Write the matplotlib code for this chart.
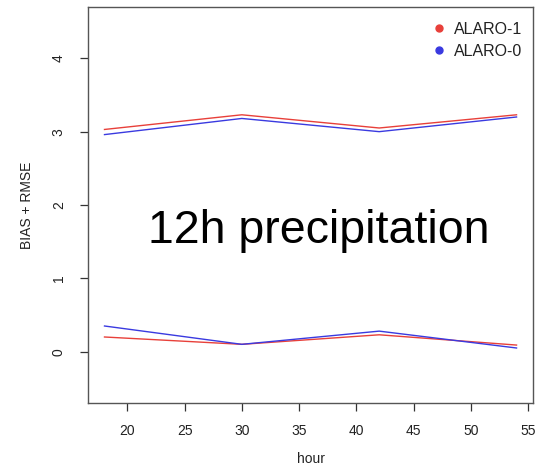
import matplotlib
matplotlib.use("Agg")
import matplotlib.pyplot as plt
from matplotlib.lines import Line2D

plt.rcParams['font.family'] = ['Liberation Sans', 'DejaVu Sans']

hours = [18, 30, 42, 54]
alaro1_rmse = [3.03, 3.23, 3.05, 3.23]
alaro0_rmse = [2.96, 3.18, 3.00, 3.20]
alaro1_bias = [0.20, 0.10, 0.23, 0.09]
alaro0_bias = [0.35, 0.10, 0.28, 0.05]
series_names = ["ALARO-1", "ALARO-0"]
x_ticks = [20, 25, 30, 35, 40, 45, 50, 55]
y_ticks = [0, 1, 2, 3, 4]

red = "#e8403a"
blue = "#3a3ae0"

fig = plt.figure(figsize=(5.37, 4.66), dpi=100)
ax = fig.add_axes([0.1639, 0.1352, 0.8287, 0.8498])

ax.plot(hours, alaro1_rmse, color=red, lw=1.0)
ax.plot(hours, alaro0_rmse, color=blue, lw=1.0)
ax.plot(hours, alaro1_bias, color=red, lw=1.0)
ax.plot(hours, alaro0_bias, color=blue, lw=1.0)

ax.set_xlim(16.56, 55.44)
ax.set_ylim(-0.7, 4.7)
ax.set_xticks(x_ticks)
ax.set_yticks(y_ticks)
ax.tick_params(axis='both', labelsize=10, length=6, width=0.9, color="#333333",
               labelcolor="#222222")
ax.tick_params(axis='x', pad=9)
ax.tick_params(axis='y', pad=10)
for lab in ax.get_yticklabels():
    lab.set_rotation(90)
    lab.set_va('center')

for sp in ax.spines.values():
    sp.set_color("#555555")
    sp.set_linewidth(1.0)

ax.set_xlabel("hour", fontsize=10, color="#222222", labelpad=10)
ax.set_ylabel("BIAS + RMSE", fontsize=10, color="#222222", labelpad=13)

ax.text(0.518, 0.404, "12h precipitation", transform=ax.transAxes,
        fontsize=33.5, ha='center', va='baseline', color="black")

handles = [Line2D([], [], marker='o', ls='none', color=c, markersize=5)
           for c in (red, blue)]
leg = ax.legend(handles, series_names, loc='upper right', frameon=False,
                fontsize=11.5, handletextpad=0.3, borderaxespad=0.4,
                labelspacing=0.45, handlelength=1.2,
                bbox_to_anchor=(1.004, 0.995))
for t in leg.get_texts():
    t.set_color("#222222")

fig.savefig("out.png", dpi=100)
